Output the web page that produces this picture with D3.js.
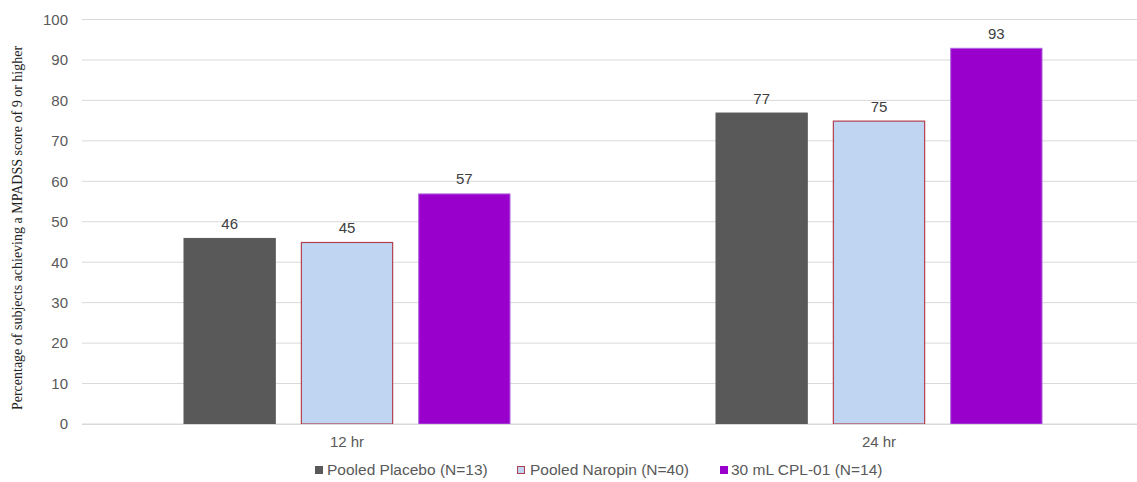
<!DOCTYPE html>
<html><head><meta charset="utf-8">
<script src="https://cdn.jsdelivr.net/npm/d3@7"></script>
<style>body{margin:0;background:#fff}svg{display:block}</style>
</head><body>
<svg id="c" width="1137" height="482"></svg>
<script>
const categories = ["12 hr", "24 hr"];
const seriesNames = ["Pooled Placebo (N=13)", "Pooled Naropin (N=40)", "30 mL CPL-01 (N=14)"];
const placebo = [46, 77];
const naropin = [45, 75];
const cpl = [57, 93];
const yTicks = [0, 10, 20, 30, 40, 50, 60, 70, 80, 90, 100];
const yTitle = "Percentage of subjects achieving a MPADSS score of 9 or higher";

const seriesValues = [placebo, naropin, cpl];
const fills = ["#595959", "#c0d5f1", "#9900cc"];
const strokes = ["#595959", "#b0404e", "#b060e0"];
const FONT = "Liberation Sans, Arial, sans-serif";

const svg = d3.select("#c");
const x0 = d3.scaleBand().domain(categories).range([81, 1145]);
const x1 = d3.scaleBand().domain(d3.range(3)).range([0, 327]).paddingInner(25/117);
const y = d3.scaleLinear().domain([0, 100]).range([424, 19.5]);

// gridlines
svg.append("g").selectAll("line").data(yTicks).join("line")
  .attr("x1", 82).attr("x2", 1145)
  .attr("y1", d => y(d)).attr("y2", d => y(d))
  .attr("stroke", "#d9d9d9").attr("stroke-width", 1);

// y tick labels
const yAxis = d3.axisLeft(y).tickValues(yTicks).tickSize(0).tickPadding(0);
const ya = svg.append("g").attr("transform", "translate(68,0)").call(yAxis);
ya.select(".domain").remove();
ya.selectAll("text").attr("fill", "#595959").style("font-family", FONT).style("font-size", "15px");

// y title
svg.append("text").attr("transform", "translate(17,228) rotate(-90)")
  .attr("text-anchor", "middle").attr("dy", "0.35em")
  .style("font-family", "Liberation Serif, Times New Roman, serif").style("font-size", "14px")
  .attr("fill", "#222").text(yTitle);

// bars
categories.forEach((cat, ci) => {
  const gx = x0(cat) + (x0.bandwidth() - 327) / 2;
  seriesValues.forEach((vals, si) => {
    const v = vals[ci];
    const bx = gx + x1(si);
    svg.append("rect").attr("x", bx + 0.5).attr("y", y(v) + 0.5)
      .attr("width", x1.bandwidth() - 1).attr("height", y(0) - y(v) - 0.5)
      .attr("fill", fills[si]).attr("stroke", strokes[si]).attr("stroke-width", si === 1 ? 1.2 : 1);
    svg.append("text").attr("x", bx + x1.bandwidth() / 2).attr("y", y(v) - 9)
      .attr("text-anchor", "middle").attr("fill", "#404040")
      .style("font-family", FONT).style("font-size", "15px").text(v);
  });
});

// x axis
const xAxis = d3.axisBottom(x0).tickSize(0).tickPadding(12);
const xa = svg.append("g").attr("transform", "translate(0,424)").call(xAxis);
xa.select(".domain").remove();
xa.selectAll("text").attr("fill", "#595959").style("font-family", FONT).style("font-size", "15px");
svg.append("line").attr("x1", 82).attr("x2", 1145).attr("y1", 424.5).attr("y2", 424.5).attr("stroke", "#d9d9d9");

// legend
const legX = [315, 517, 720];
seriesNames.forEach((n, i) => {
  const g = svg.append("g").attr("transform", `translate(${legX[i]},470)`);
  g.append("rect").attr("x", 0.5).attr("y", -3.5).attr("width", 7).attr("height", 7)
    .attr("fill", fills[i]).attr("stroke", i === 1 ? "#b0404e" : fills[i]).attr("stroke-width", 1);
  g.append("text").attr("x", i === 0 ? 12 : (i === 1 ? 13 : 11)).attr("y", 0).attr("dy", "0.35em").attr("fill", "#595959")
    .style("font-family", FONT).style("font-size", "15.5px").text(n);
});
</script>
</body></html>
